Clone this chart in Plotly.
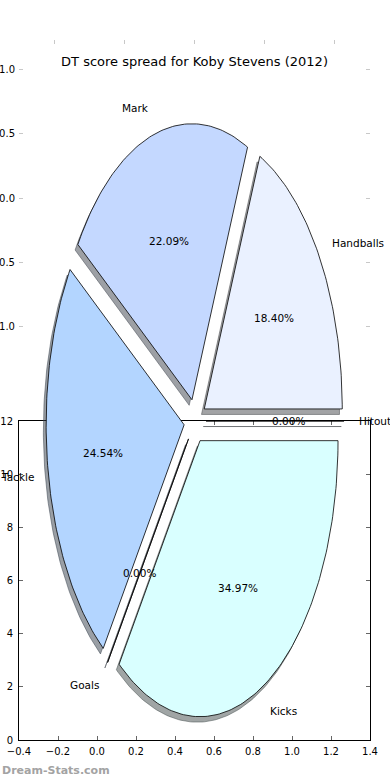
import numpy as np
import plotly.graph_objects as go

# ---------------- data ----------------
labels = ["Handballs", "Mark", "Tackle", "Goals", "Kicks", "Hitout"]
percentages = [18.40, 22.09, 24.54, 0.00, 34.97, 0.00]
colors = ["#eaf1ff", "#c4d8ff", "#b3d5ff", "#cfe3ff", "#d9ffff", "#e2eeff"]
explode = [0.08, 0.08, 0.08, 0.08, 0.08, 0.08]

lower_x_ticks = [-0.4, -0.2, 0.0, 0.2, 0.4, 0.6, 0.8, 1.0, 1.2, 1.4]
lower_y_ticks = [0, 2, 4, 6, 8, 10, 12]
upper_x_ticks = [-1.0, -0.5, 0.0, 0.5, 1.0]
upper_y_ticks = [-1.0, -0.5, 0.0, 0.5, 1.0]

title_text = "DT score spread for Koby Stevens (2012)"
watermark = "Dream-Stats.com"

# ---------------- layout constants ----------------
W, H = 390, 780
ML, MR, MT, MB = 19, 20, 40, 40
PW = W - ML - MR
PH = H - MT - MB
CX, CY, RX, RY = 195.0, 421.0, 138.0, 276.0   # pie centre / radii in px
pie_xrange = [(ML - CX) / RX, (ML + PW - CX) / RX]
pie_yrange = [(CY - (MT + PH)) / RY, (CY - MT) / RY]
SHADOW = (-0.02, -0.02)
FONT = "DejaVu Sans"

fig = go.Figure()

# empty traces so both axis boxes exist
fig.add_trace(go.Scatter(x=[None], y=[None], xaxis="x", yaxis="y",
                         showlegend=False, hoverinfo="skip"))
fig.add_trace(go.Scatter(x=[None], y=[None], xaxis="x2", yaxis="y2",
                         showlegend=False, hoverinfo="skip"))

# ---------------- wedges ----------------
total = sum(percentages)
wedges = []
theta = 0.0
for lab, p, col, ex in zip(labels, percentages, colors, explode):
    t1 = theta
    t2 = theta + 360.0 * p / total
    theta = t2
    tm = np.deg2rad((t1 + t2) / 2.0)
    ox, oy = ex * np.cos(tm), ex * np.sin(tm)
    n = max(2, int(abs(t2 - t1)) + 2)
    ang = np.deg2rad(np.linspace(t1, t2, n))
    xs = np.concatenate([[ox], ox + np.cos(ang), [ox]])
    ys = np.concatenate([[oy], oy + np.sin(ang), [oy]])
    wedges.append((lab, p, col, tm, ox, oy, xs, ys))


def shadow_color(hexcol):
    r = int(hexcol[1:3], 16) * 0.3
    g = int(hexcol[3:5], 16) * 0.3
    b = int(hexcol[5:7], 16) * 0.3
    return f"rgba({r:.0f},{g:.0f},{b:.0f},0.5)"


# shadows below all wedges
for lab, p, col, tm, ox, oy, xs, ys in wedges:
    fig.add_trace(go.Scatter(
        x=xs + SHADOW[0], y=ys + SHADOW[1], xaxis="x3", yaxis="y3",
        mode="lines", fill="toself", fillcolor=shadow_color(col),
        line=dict(color=shadow_color(col), width=1),
        showlegend=False, hoverinfo="skip"))

for lab, p, col, tm, ox, oy, xs, ys in wedges:
    fig.add_trace(go.Scatter(
        x=xs, y=ys, xaxis="x3", yaxis="y3",
        mode="lines", fill="toself", fillcolor=col,
        line=dict(color="black", width=0.8),
        showlegend=False, name=lab, hoverinfo="skip"))

annotations = []
for lab, p, col, tm, ox, oy, xs, ys in wedges:
    lx, ly = ox + 1.1 * np.cos(tm), oy + 1.1 * np.sin(tm)
    annotations.append(dict(
        x=lx, y=ly, xref="x3", yref="y3", text=lab, showarrow=False,
        xanchor="left" if np.cos(tm) > 0 else "right", yanchor="middle",
        borderpad=0, font=dict(family=FONT, size=10.5, color="black")))
    px_, py_ = ox + 0.6 * np.cos(tm), oy + 0.6 * np.sin(tm)
    annotations.append(dict(
        x=px_, y=py_, xref="x3", yref="y3", text=f"{p:.2f}%", showarrow=False,
        xanchor="center", yanchor="middle", borderpad=0,
        font=dict(family=FONT, size=10.5, color="black")))

annotations.append(dict(
    x=-ML / PW, y=-30.0 / PH, xref="paper", yref="paper",
    text="<b>" + watermark + "</b>", showarrow=False,
    xanchor="left", yanchor="middle",
    font=dict(family=FONT, size=11, color="#a3a3a3")))

tickfont = dict(family=FONT, size=10, color="black")

fig.update_layout(
    width=W, height=H,
    margin=dict(l=ML, r=MR, t=MT, b=MB, pad=0, autoexpand=False),
    paper_bgcolor="white", plot_bgcolor="rgba(0,0,0,0)",
    showlegend=False,
    title=dict(text=title_text, x=0.5, xref="paper", xanchor="center",
               y=1 - 61 / H, yref="container", yanchor="middle",
               font=dict(family=FONT, size=13, color="black")),
    xaxis=dict(domain=[0, 1], anchor="y", range=[-0.4, 1.4],
               tickvals=lower_x_ticks, tickformat=".1f",
               ticks="inside", ticklen=4, tickcolor="#666", tickwidth=1,
               showline=True, linecolor="black", linewidth=1, mirror="ticks",
               showgrid=False, zeroline=False, tickfont=tickfont,
               ticklabelstandoff=2, fixedrange=True),
    yaxis=dict(domain=[0, (PH + MT - CY) / PH], anchor="x", range=[0, 12],
               tickvals=lower_y_ticks,
               ticks="inside", ticklen=4, tickcolor="#666", tickwidth=1,
               showline=True, linecolor="black", linewidth=1, mirror="ticks",
               showgrid=False, zeroline=False, tickfont=tickfont,
               ticklabelstandoff=3, fixedrange=True),
    xaxis2=dict(domain=[0, 1], anchor="y2", range=[-1.25, 1.25], side="top",
                tickvals=upper_x_ticks, showticklabels=False,
                ticks="inside", ticklen=4, tickcolor="#c8c8c8",
                showline=False, showgrid=False, zeroline=False,
                fixedrange=True),
    yaxis2=dict(domain=[(MT + PH - 356) / PH, 1], anchor="x2",
                range=[-1.234, 1.234], tickvals=upper_y_ticks,
                tickformat=".1f",
                ticks="inside", ticklen=4, tickcolor="#c8c8c8",
                showline=False, mirror="ticks", showgrid=False,
                zeroline=False, tickfont=tickfont, ticklabelstandoff=3,
                fixedrange=True),
    xaxis3=dict(domain=[0, 1], anchor="y3", range=pie_xrange,
                visible=False, fixedrange=True),
    yaxis3=dict(domain=[0, 1], anchor="x3", range=pie_yrange,
                visible=False, fixedrange=True),
    annotations=annotations,
)

fig.write_html("out.html",
               config={"displayModeBar": False, "staticPlot": True},
               post_script="document.body.style.margin='0';"
                           "document.body.style.overflow='hidden';")
